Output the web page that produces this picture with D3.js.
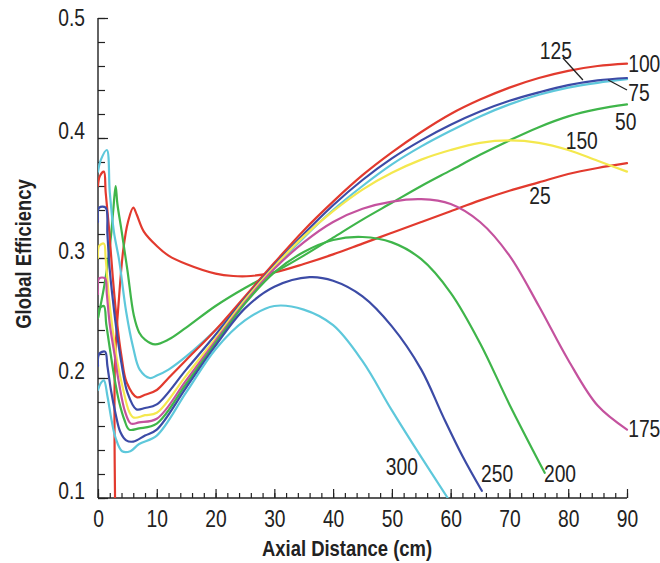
<!DOCTYPE html>
<html><head><meta charset="utf-8">
<script src="https://cdn.jsdelivr.net/npm/d3@7"></script>
<style>body{margin:0;background:#fff}</style>
</head><body>
<svg id="chart" width="660" height="563"></svg>
<script>
// ---- data (axial distance cm, global efficiency) ----
const s25  = [[2.9,0.1],[2.9,0.215],[3.5,0.262],[4.3,0.307],[5.1,0.33],[6.0,0.342],[6.6,0.336],[7.8,0.322],[10,0.31],[12,0.302],[15,0.295],[20,0.287],[23,0.285],[26,0.285],[30,0.288],[35,0.295],[40,0.303],[45,0.312],[50,0.321],[55,0.33],[60,0.339],[65,0.348],[70,0.356],[75,0.363],[80,0.37],[85,0.375],[90,0.379]];
const s50  = [[0,0.25],[0.5,0.262],[1.0,0.275],[1.5,0.29],[2.2,0.318],[2.6,0.34],[3.0,0.36],[3.3,0.345],[4.0,0.323],[5.0,0.29],[6.1,0.252],[7,0.238],[8,0.232],[9.7,0.228],[12,0.232],[15,0.242],[20,0.26],[25,0.275],[30,0.288],[35,0.302],[40,0.317],[45,0.332],[50,0.346],[55,0.36],[60,0.373],[65,0.386],[70,0.398],[75,0.409],[80,0.418],[85,0.424],[90,0.428]];
const s75  = [[0,0.372],[0.5,0.382],[1.5,0.39],[2.0,0.355],[2.7,0.322],[3.6,0.298],[4.8,0.255],[6.0,0.225],[7.1,0.207],[8.8,0.2],[10,0.202],[12,0.207],[15,0.218],[20,0.24],[25,0.265],[30,0.292],[35,0.317],[40,0.34],[45,0.36],[50,0.378],[55,0.393],[60,0.406],[65,0.418],[70,0.428],[75,0.436],[80,0.442],[85,0.446],[90,0.449]];
const s100 = [[0,0.36],[0.3,0.368],[1.0,0.372],[1.3,0.355],[1.9,0.323],[2.5,0.285],[3.2,0.248],[4.0,0.218],[4.9,0.196],[6.6,0.184],[8,0.186],[10,0.19],[12,0.2],[15,0.215],[20,0.24],[25,0.268],[30,0.296],[35,0.323],[40,0.347],[45,0.369],[50,0.388],[55,0.405],[60,0.42],[65,0.432],[70,0.442],[75,0.45],[80,0.456],[85,0.46],[90,0.462]];
const s125 = [[0,0.33],[0.2,0.342],[1.3,0.342],[1.6,0.32],[2.0,0.29],[2.6,0.262],[3.2,0.238],[4.0,0.212],[5.0,0.188],[6.5,0.174],[8,0.175],[10,0.178],[15,0.207],[20,0.236],[25,0.266],[30,0.294],[35,0.32],[40,0.344],[45,0.365],[50,0.383],[55,0.398],[60,0.411],[65,0.422],[70,0.431],[75,0.438],[80,0.444],[85,0.448],[90,0.45]];
const s150 = [[0,0.30],[0.2,0.31],[1.0,0.312],[1.3,0.30],[1.8,0.27],[2.5,0.24],[3.3,0.213],[4.3,0.19],[5.3,0.172],[6.1,0.167],[8,0.169],[10,0.171],[15,0.202],[20,0.233],[25,0.265],[30,0.293],[35,0.318],[40,0.339],[45,0.357],[50,0.371],[55,0.382],[60,0.39],[65,0.396],[70,0.398],[75,0.396],[80,0.39],[85,0.381],[90,0.372]];
const s175 = [[0,0.27],[0.2,0.283],[1.2,0.283],[1.5,0.27],[2.0,0.245],[2.8,0.22],[3.6,0.195],[4.6,0.172],[5.6,0.162],[7,0.163],[10,0.166],[15,0.198],[20,0.231],[25,0.263],[30,0.291],[35,0.313],[40,0.33],[45,0.341],[50,0.347],[55,0.349],[60,0.345],[65,0.33],[70,0.302],[75,0.26],[80,0.215],[85,0.177],[90,0.157]];
const s200 = [[0,0.25],[0.3,0.258],[1.0,0.26],[1.4,0.245],[2.0,0.225],[2.8,0.2],[3.6,0.18],[4.5,0.165],[5.3,0.157],[7,0.158],[10,0.162],[15,0.195],[20,0.229],[25,0.262],[30,0.288],[35,0.305],[40,0.315],[45,0.3175],[50,0.313],[55,0.299],[60,0.271],[65,0.229],[70,0.178],[76,0.121]];
const s250 = [[0,0.21],[0.2,0.22],[1.2,0.222],[1.6,0.21],[2.2,0.19],[3.0,0.17],[3.8,0.155],[4.8,0.148],[6,0.147],[8,0.152],[10,0.157],[15,0.192],[20,0.227],[25,0.258],[30,0.276],[36,0.284],[40,0.281],[45,0.268],[50,0.243],[55,0.207],[58.7,0.168],[62,0.135],[65.3,0.106]];
const s300 = [[0,0.19],[0.5,0.196],[1.0,0.198],[1.6,0.185],[2.3,0.165],[3.0,0.15],[4.1,0.139],[5.5,0.139],[7,0.145],[10,0.152],[15,0.188],[20,0.224],[25,0.248],[30,0.26],[35,0.257],[40,0.244],[45,0.214],[50,0.173],[55,0.134],[59.5,0.1]];

const seriesNames  = ["25","50","75","100","125","150","175","200","250","300"];
const seriesValues = [s25, s50, s75, s100, s125, s150, s175, s200, s250, s300];
const seriesColors = ["#e23a2e","#3fb54a","#5ec8db","#e23a2e","#3c4ba6","#f4e84e","#c4529e","#3fb54a","#3c4ba6","#5ec8db"];

// curve labels: [text, cm, efficiency, anchor]
const labelText   = ["125","100","75","50","150","25","175","200","250","300"];
const labelCm     = [77.9, 90.2, 90.2, 87.95, 82.3, 75.2, 90.2, 78.6, 67.9, 51.7];
const labelEff    = [0.4733,0.4617,0.4375,0.414,0.398,0.352,0.158,0.12,0.12,0.126];
const labelAnchor = ["middle","start","start","start","middle","middle","start","middle","middle","middle"];
const leaders = [[[79.1,0.4667],[82.5,0.4483]], [[86.8,0.4483],[90,0.44]]];

const xTicks = [0,10,20,30,40,50,60,70,80,90];
const yTicks = [0.1,0.2,0.3,0.4,0.5];

// ---- font detection (narrow face or horizontal squeeze) ----
function hasFont(name){
  const c=document.createElement('canvas').getContext('2d');
  const t="0123456789 Axial Distance";
  c.font="22px monospace"; const a=c.measureText(t).width;
  c.font="22px '"+name+"', monospace"; const b=c.measureText(t).width;
  return Math.abs(a-b)>0.5;
}
const narrow = hasFont("Liberation Sans Narrow");
const FONT = narrow ? "'Liberation Sans Narrow','Arial Narrow',sans-serif" : "'Liberation Sans',Arial,sans-serif";
const SX = narrow ? 1 : 0.82;
const FS = 23.5;

const svg = d3.select("#chart");
const x = d3.scaleLinear().domain([0,90]).range([98,627]);
const y = d3.scaleLinear().domain([0.1,0.5]).range([498,18]);

svg.append("defs").append("clipPath").attr("id","clip")
  .append("rect").attr("x",98).attr("y",18).attr("width",560).attr("height",480);

// axes
const xMinor = d3.range(0,91,2);
const yMinor = d3.range(0,21).map(i=>+(0.1+i*0.02).toFixed(2));

const gx = svg.append("g").attr("transform","translate(0,498)");
gx.call(d3.axisBottom(x).tickValues(xMinor).tickSize(-5).tickFormat(""));
gx.call(g=>g.select(".domain").remove());
const gx2 = svg.append("g").attr("transform","translate(0,498)");
gx2.call(d3.axisBottom(x).tickValues(xTicks).tickSize(-9).tickPadding(18).tickFormat(d3.format("d")));
gx2.select(".domain").attr("d","M98,0H627");

const gy = svg.append("g").attr("transform","translate(98,0)");
gy.call(d3.axisLeft(y).tickValues(yMinor).tickSize(-7).tickFormat(""));
gy.call(g=>g.select(".domain").remove());
const gy2 = svg.append("g").attr("transform","translate(98,0)");
gy2.call(d3.axisLeft(y).tickValues(yTicks).tickSize(-10).tickPadding(13).tickFormat(d3.format(".1f")));
gy2.select(".domain").attr("d","M0,18V498");

svg.selectAll(".tick line").attr("stroke","#222").attr("stroke-width",1.2);
svg.selectAll(".domain").attr("stroke","#222").attr("stroke-width",1.4);

gx2.selectAll(".tick text").attr("font-family",FONT).attr("font-size",FS).attr("fill","#222")
   .attr("y",29).attr("dy",0)
   .attr("transform","scale("+SX+",1)");
gy2.selectAll(".tick text").each(function(d){
  const t=d3.select(this);
  const xx=+t.attr("x");
  t.attr("x",0).attr("dy",0).attr("y", d===0.5?7:0)
   .attr("transform","translate("+xx+",0) scale("+SX+",1)");
}).attr("font-family",FONT).attr("font-size",FS).attr("fill","#222");

// axis titles
svg.append("text").attr("transform","translate(347,556) scale("+SX+",1)")
  .attr("text-anchor","middle").attr("font-family",FONT).attr("font-weight","bold")
  .attr("font-size",22.5).attr("fill","#222").text("Axial Distance (cm)");
svg.append("text").attr("transform","translate(31,254) rotate(-90) scale("+SX+",1)")
  .attr("text-anchor","middle").attr("font-family",FONT).attr("font-weight","bold")
  .attr("font-size",22.5).attr("fill","#222").text("Global Efficiency");

// lines
const line = d3.line().x(d=>x(d[0])).y(d=>y(d[1])).curve(d3.curveCatmullRom.alpha(0.5));
const gl = svg.append("g").attr("clip-path","url(#clip)");
seriesValues.forEach((s,i)=>{
  gl.append("path").datum(s).attr("d",line).attr("fill","none")
    .attr("stroke",seriesColors[i]).attr("stroke-width",2.2)
    .attr("stroke-linejoin","round").attr("stroke-linecap","round");
});

// leaders
leaders.forEach(l=>{
  svg.append("line").attr("x1",x(l[0][0])).attr("y1",y(l[0][1]))
    .attr("x2",x(l[1][0])).attr("y2",y(l[1][1]))
    .attr("stroke","#222").attr("stroke-width",1.3);
});

// labels
labelText.forEach((t,i)=>{
  svg.append("text")
    .attr("transform","translate("+x(labelCm[i])+","+y(labelEff[i])+") scale("+SX+",1)")
    .attr("dy","0.36em").attr("text-anchor",labelAnchor[i])
    .attr("font-family",FONT).attr("font-size",FS).attr("fill","#222").text(t);
});
</script>
</body></html>
